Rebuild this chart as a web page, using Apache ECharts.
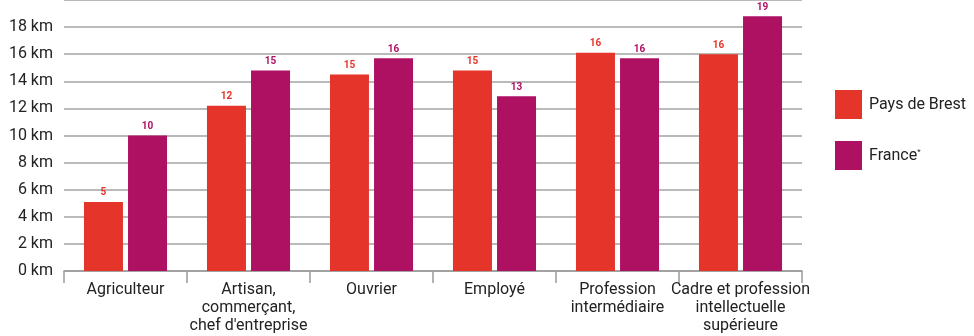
<!DOCTYPE html>
<html>
<head>
<meta charset="utf-8">
<script src="https://cdn.jsdelivr.net/npm/echarts@6/dist/echarts.min.js"></script>
<style>
  html, body { margin: 0; padding: 0; background: #fff; }
  #chart { width: 974px; height: 336px; }
</style>
</head>
<body>
<div id="chart"></div>
<script>
// Distance domicile-travail par catégorie socioprofessionnelle (km)
const categories = [
  'Agriculteur',
  'Artisan,\ncommerçant,\nchef d\'entreprise',
  'Ouvrier',
  'Employé',
  'Profession\nintermédiaire',
  'Cadre et profession\nintellectuelle\nsupérieure'
];
const paysDeBrest = [5.1, 12.2, 14.5, 14.8, 16.1, 16.0];
const france = [10.0, 14.8, 15.7, 12.9, 15.7, 18.8];
const seriesNames = ['Pays de Brest', 'France'];
const yTicks = { min: 0, max: 20, interval: 2, unit: 'km' };

const RED = '#e5352b';
const PURPLE = '#ae1062';
const FONT = 'Roboto, "Noto Sans", sans-serif';

const chart = echarts.init(document.getElementById('chart'), null, { renderer: 'canvas' });

function barSeries(name, data, color) {
  return {
    name: name,
    type: 'bar',
    data: data,
    barWidth: 39,
    barGap: '13%',
    itemStyle: { color: color },
    label: {
      show: true,
      position: 'top',
      distance: 4,
      color: color,
      fontFamily: FONT,
      fontWeight: 'bold',
      fontSize: 10,
      formatter: p => String(Math.round(p.value))
    }
  };
}

chart.setOption({
  animation: false,
  textStyle: { fontFamily: FONT },
  grid: { left: 64, right: 172, top: -3, bottom: 65, containLabel: false },
  legend: {
    orient: 'vertical',
    left: 835,
    top: 90,
    padding: 0,
    itemWidth: 27,
    itemHeight: 29,
    itemGap: 22,
    icon: 'rect',
    data: seriesNames,
    textStyle: {
      fontFamily: FONT,
      fontSize: 16,
      color: '#222',
      padding: [0, 0, 0, 2],
      rich: {
        sup: { fontSize: 8, verticalAlign: 'top', padding: [0, 0, 8, 0], color: '#222', fontFamily: FONT }
      }
    },
    formatter: name => name === 'France' ? 'France{sup|*}' : name
  },
  xAxis: {
    type: 'category',
    data: categories,
    axisLine: { show: true, lineStyle: { color: '#9a9a9a', width: 1.5 } },
    axisTick: { show: true, alignWithLabel: false, length: 12, lineStyle: { color: '#9a9a9a', width: 1.5 } },
    axisLabel: {
      interval: 0,
      margin: 10,
      color: '#222',
      fontSize: 16,
      lineHeight: 18,
      fontFamily: FONT
    }
  },
  yAxis: {
    type: 'value',
    min: yTicks.min,
    max: yTicks.max,
    interval: yTicks.interval,
    axisLine: { show: false },
    axisTick: { show: false },
    splitLine: { show: true, lineStyle: { color: '#a3a3a3', width: 1.5 } },
    axisLabel: {
      showMaxLabel: false,
      margin: 11,
      color: '#222',
      fontSize: 16,
      fontFamily: FONT,
      formatter: v => v + ' ' + yTicks.unit
    }
  },
  series: [
    barSeries(seriesNames[0], paysDeBrest, RED),
    barSeries(seriesNames[1], france, PURPLE)
  ]
});
</script>
</body>
</html>
